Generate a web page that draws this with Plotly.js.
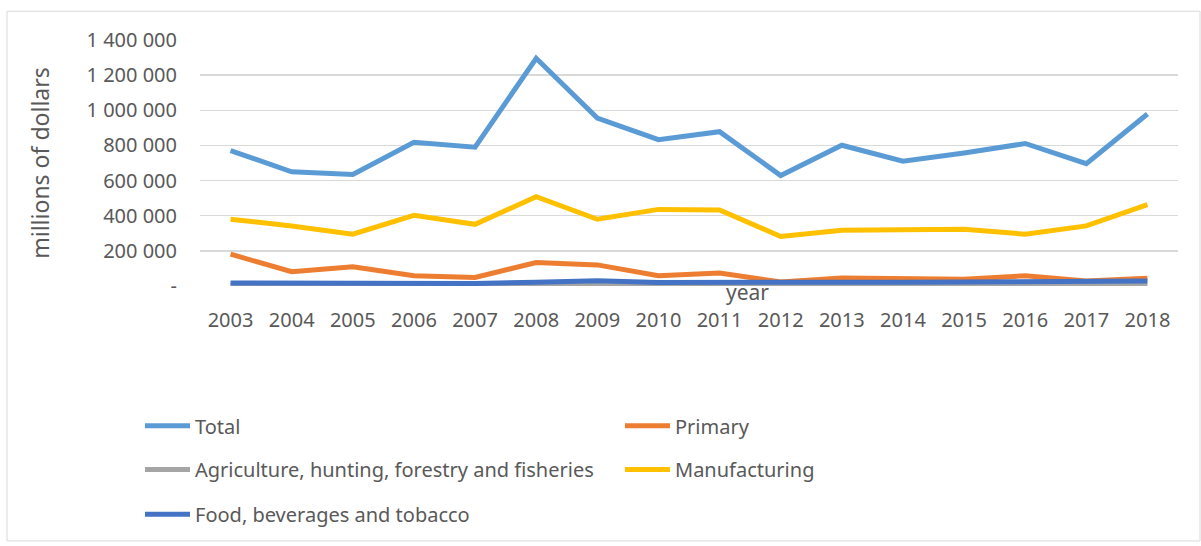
<!DOCTYPE html>
<html><head><meta charset="utf-8">
<script src="https://cdn.plot.ly/plotly-3.0.1.min.js"></script>
<style>html,body{margin:0;padding:0;background:#fff;}#chart{width:1201px;height:546px;}</style>
</head><body><div id="chart"></div>
<script>
const years = ['2003','2004','2005','2006','2007','2008','2009','2010','2011','2012','2013','2014','2015','2016','2017','2018'];
const total = [771000,650000,635000,818000,790000,1296000,956000,833000,878000,629000,801000,710000,757000,811000,696000,979000];
const primary = [181000,81000,109000,58000,49000,134000,120000,58000,74000,23000,45000,45000,38000,58000,28000,44000];
const agriculture = [4000,4000,3000,4000,4000,5000,6000,5000,5000,5000,5000,5000,5000,5000,6000,6000];
const manufacturing = [380000,342000,295000,402000,351000,508000,380000,436000,433000,282000,317000,323000,323000,295000,342000,463000];
const food = [17000,16000,11000,13000,14000,22000,30000,20000,23000,22000,22000,22000,22000,22000,27000,28000];
const seriesNames = ['Total','Primary','Agriculture, hunting, forestry and fisheries','Manufacturing','Food, beverages and tobacco'];
const seriesColors = ['#5b9bd5','#ed7d31','#a5a5a5','#ffc000','#4472c4'];
const legendRows = ['legend','legend','legend2','legend2','legend3'];
const yTickVals = [0,200000,400000,600000,800000,1000000,1200000,1400000];
const yTickText = ['-','200 000','400 000','600 000','800 000','1 000 000','1 200 000','1 400 000'];

const data = [total, primary, agriculture, manufacturing, food].map((vals, i) => ({
  type: 'scatter', mode: 'lines', x: years, y: vals, name: seriesNames[i],
  legend: legendRows[i],
  line: {color: seriesColors[i], width: 5}
}));

const L = 200, R = 1178, T = 40, B = 288;
const W = R - L, H = B - T;
const px = v => (v - L) / W, py = v => (B - v) / H;
const legendBase = rowY => ({orientation: 'h', x: px(140), y: py(rowY), xanchor: 'left', yanchor: 'middle',
  entrywidth: 420, entrywidthmode: 'pixels', itemwidth: 45, bgcolor: 'rgba(0,0,0,0)',
  font: {size: 20, color: '#595959', family: 'Noto Sans, sans-serif'}});

const layout = {
  width: 1201, height: 546,
  margin: {l: L, r: 1201 - R, t: T, b: 546 - B},
  paper_bgcolor: '#fff', plot_bgcolor: '#fff',
  font: {family: 'Noto Sans, sans-serif', color: '#595959', size: 20},
  showlegend: true,
  legend: legendBase(429),
  legend2: legendBase(473),
  legend3: legendBase(518),
  xaxis: {type: 'category', range: [-0.5, 15.5], showgrid: false, zeroline: false,
    showline: false, ticks: '', ticklen: 0, ticklabelstandoff: 20,
    tickfont: {size: 20, color: '#595959'}, fixedrange: true},
  yaxis: {range: [0, 1400000], tickvals: yTickVals, ticktext: yTickText,
    gridcolor: '#d9d9d9', gridwidth: 1.5, zeroline: false, showline: false, ticks: '',
    tickfont: {size: 20, color: '#595959'}, ticklabelstandoff: 22,
    title: {text: 'millions of dollars', font: {size: 23, color: '#595959'}, standoff: 30}, fixedrange: true},
  annotations: [{text: 'year', xref: 'paper', yref: 'paper', x: px(747), y: py(294), xanchor: 'center', yanchor: 'middle',
    showarrow: false, font: {size: 21, color: '#595959'}}],
  shapes: [{type: 'rect', xref: 'paper', yref: 'paper', x0: px(7), x1: px(1200), y0: py(545), y1: py(11),
    line: {color: '#d9d9d9', width: 1}, fillcolor: 'rgba(0,0,0,0)', layer: 'below'}]
};
Plotly.newPlot('chart', data, layout, {displayModeBar: false, staticPlot: true});
</script></body></html>
